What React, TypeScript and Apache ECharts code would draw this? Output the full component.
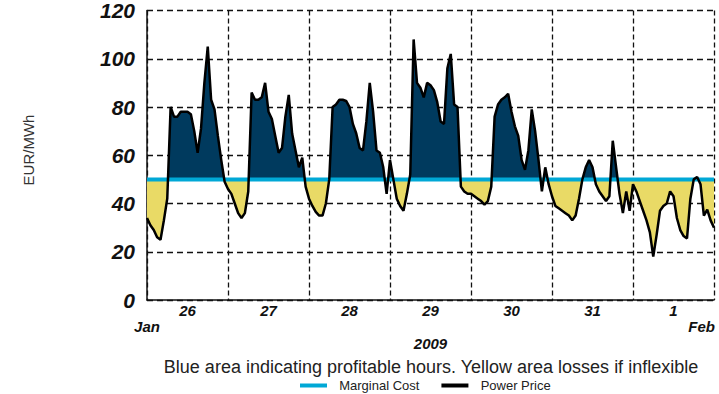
import React, { useEffect, useRef } from "react";
import * as echarts from "echarts";

// Hourly power price, EUR/MWh, one array per day (hours 0..23)
const jan26 = [34, 31, 29, 26, 25, 33, 42, 80, 76, 76, 78, 78, 78, 77, 70, 61, 71, 90, 105, 83, 79, 68, 58, 49];
const jan27 = [46, 44, 40, 36, 34, 36, 45, 86, 83, 83, 84, 90, 78, 75, 68, 61, 63, 76, 85, 69, 62, 55, 59, 47];
const jan28 = [42, 39, 36.5, 35, 35, 40, 50, 80, 81, 83, 83, 82.5, 80, 73, 69, 63, 62, 74, 90, 78, 62, 61, 55, 44];
const jan29 = [58, 50, 42, 39, 37, 44, 52, 108, 90, 88, 84, 90, 89, 87, 82, 74, 73, 96, 102, 81, 80, 47, 45, 44];
const jan30 = [44, 43, 42, 41, 39.5, 41, 47, 76, 81, 83, 84, 85.5, 78, 72, 68, 58, 54, 62, 79, 70, 58, 45, 55, 48];
const jan31 = [43, 39, 38, 37, 36, 35, 33, 35, 42, 50, 55, 58, 55, 48, 45, 43, 41, 43, 66, 55, 44, 36, 45, 37];
const feb1 = [48, 45, 41, 37, 33, 28, 18, 27, 37, 39, 40, 45, 43, 34, 29, 26.5, 25.5, 42, 50, 51, 48, 35, 37.5, 33];
const lastHour = [30];

const marginalCost = 50;
const yMax = 120;
const dayLabels = ["26", "27", "28", "29", "30", "31", "1"];
const yearLabel = "2009";
const startMonth = "Jan";
const endMonth = "Feb";
const caption = "Blue area indicating profitable hours. Yellow area losses if inflexible";

const BLUE = "#003a5e";
const YELLOW = "#e9da66";
const CYAN = "#00a8d6";
const FONT = "Liberation Sans, Arial, sans-serif";
const GRID_TOP = 8;
const GRID_BOTTOM_Y = 300;

export default function App() {
  const ref = useRef<HTMLDivElement>(null);

  useEffect(() => {
    if (!ref.current) return;
    document.body.style.margin = "0";
    const chart = echarts.init(ref.current, null, { renderer: "svg" });
    const hourly = [...jan26, ...jan27, ...jan28, ...jan29, ...jan30, ...jan31, ...feb1, ...lastHour];
    const hours = hourly.length - 1;
    const priceData = hourly.map((v, i) => [i, v]);
    const mcData = [[0, marginalCost], [hours, marginalCost]];

    const split = (yMax - marginalCost) / yMax;
    const areaFill = new echarts.graphic.LinearGradient(
      0, GRID_TOP, 0, GRID_BOTTOM_Y,
      [
        { offset: 0, color: BLUE },
        { offset: split, color: BLUE },
        { offset: split, color: YELLOW },
        { offset: 1, color: YELLOW },
      ],
      true
    );

    const labelStyle = {
      fontFamily: FONT,
      fontWeight: "bold" as const,
      fontStyle: "italic" as const,
      color: "#111",
    };

    chart.setOption({
      animation: false,
      grid: { left: 147, right: 5, top: GRID_TOP, bottom: 394 - GRID_BOTTOM_Y },
      xAxis: [
        {
          type: "value",
          min: 0,
          max: hours,
          interval: 24,
          axisLine: { show: true, lineStyle: { color: "#111", width: 1.5 } },
          axisTick: { show: false },
          axisLabel: { show: false },
          splitLine: { show: true, lineStyle: { color: "#111", width: 1.3, type: [5, 3] } },
        },
        {
          type: "value",
          min: 0,
          max: hours,
          interval: 12,
          position: "bottom",
          axisLine: { show: false },
          axisTick: { show: false },
          splitLine: { show: false },
          axisLabel: {
            ...labelStyle,
            fontSize: 15,
            margin: 3,
            formatter: (v: number) => (v % 24 === 12 ? dayLabels[(v - 12) / 24] : ""),
          },
          name: yearLabel,
          nameLocation: "middle",
          nameGap: 36,
          nameTextStyle: { ...labelStyle, fontSize: 15 },
        },
      ],
      yAxis: {
        type: "value",
        min: 0,
        max: yMax,
        interval: 20,
        axisLine: { show: true, lineStyle: { color: "#111", width: 1.5 } },
        axisTick: { show: false },
        axisLabel: { ...labelStyle, fontSize: 21, margin: 12 },
        splitLine: { show: true, lineStyle: { color: "#111", width: 1.3, type: [6, 4] } },
      },
      legend: {
        data: [
          { name: "Marginal Cost", icon: "rect" },
          { name: "Power Price", icon: "rect" },
        ],
        left: 300,
        top: 379,
        padding: 0,
        itemWidth: 27,
        itemHeight: 4,
        itemGap: 22,
        formatter: (name: string) => "  " + name,
        textStyle: { fontFamily: FONT, fontSize: 13, color: "#222" },
      },
      series: [
        {
          name: "Price area",
          type: "line",
          data: priceData,
          showSymbol: false,
          lineStyle: { width: 0 },
          areaStyle: { opacity: 1, origin: marginalCost, color: areaFill },
          z: 2,
        },
        {
          name: "Marginal Cost",
          type: "line",
          data: mcData,
          showSymbol: false,
          lineStyle: { color: CYAN, width: 4 },
          itemStyle: { color: CYAN },
          z: 3,
        },
        {
          name: "Power Price",
          type: "line",
          data: priceData,
          showSymbol: false,
          lineStyle: { color: "#000", width: 2.5 },
          itemStyle: { color: "#000" },
          z: 4,
        },
      ],
      graphic: [
        {
          type: "text",
          x: 147,
          y: 326,
          style: { text: startMonth, ...labelStyle, fill: "#111", fontSize: 15, align: "center", verticalAlign: "middle" },
        },
        {
          type: "text",
          x: 715,
          y: 326,
          style: { text: endMonth, ...labelStyle, fill: "#111", fontSize: 15, align: "right", verticalAlign: "middle" },
        },
        {
          type: "text",
          x: 28,
          y: 150,
          rotation: Math.PI / 2,
          style: { text: "EUR/MWh", fontFamily: FONT, fontSize: 15, fill: "#333", align: "center", verticalAlign: "middle" },
        },
        {
          type: "text",
          x: 431,
          y: 367,
          style: { text: caption, fontFamily: FONT, fontSize: 18, fill: "#222", align: "center", verticalAlign: "middle" },
        },
      ],
    });
    return () => chart.dispose();
  }, []);

  return <div ref={ref} style={{ width: 719, height: 394 }} />;
}
